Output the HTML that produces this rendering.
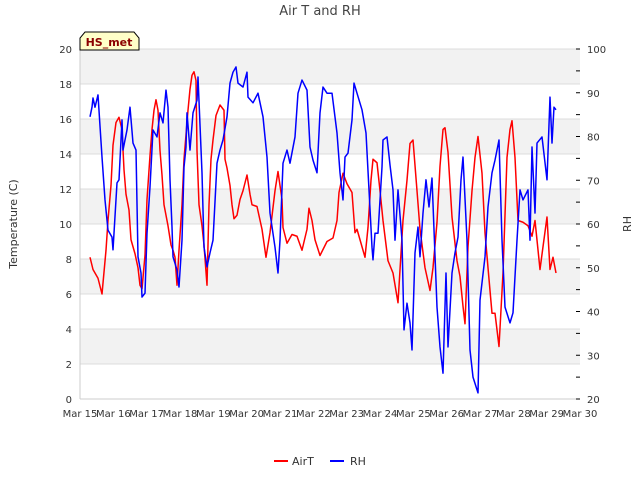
<!DOCTYPE html>
<html><head><meta charset="utf-8"><style>
body{margin:0;background:#fff;font-family:"Liberation Sans","DejaVu Sans",sans-serif}
svg text{font-family:"DejaVu Sans","Liberation Sans",sans-serif}
</style></head><body>
<svg id="chart" width="640" height="480" xmlns="http://www.w3.org/2000/svg">
<text x="320" y="15" text-anchor="middle" font-size="13" fill="#444">Air T and RH</text>
<g id="bands"></g><g id="grid"></g>
<text transform="translate(17,224) rotate(-90)" text-anchor="middle" font-size="11" fill="#333">Temperature (C)</text>
<text transform="translate(631,224) rotate(-90)" text-anchor="middle" font-size="11" fill="#333">RH</text>
<g id="axes"></g><g id="series"></g>
<g>
<path d="M80,50 L80,38 L85,32 L134,32 L139,38 L139,50 Z" fill="#ffffc8" stroke="#000" stroke-width="1"/>
<text x="109" y="46" text-anchor="middle" font-size="11" font-weight="bold" fill="#8b0000">HS_met</text></g>
<g>
<line x1="274" y1="461" x2="288" y2="461" stroke="#f00" stroke-width="2"/>
<text x="292" y="465" font-size="11" fill="#333">AirT</text>
<line x1="330" y1="461" x2="344" y2="461" stroke="#00f" stroke-width="2"/>
<text x="350" y="465" font-size="11" fill="#333">RH</text></g>
</svg>
<script>
const xTickLabels=["Mar 15","Mar 16","Mar 17","Mar 18","Mar 19","Mar 20","Mar 21","Mar 22","Mar 23","Mar 24","Mar 25","Mar 26","Mar 27","Mar 28","Mar 29","Mar 30"];
const yTicks=[0,2,4,6,8,10,12,14,16,18,20];
const y2Ticks=[20,30,40,50,60,70,80,90,100];
const tDays=[0.30,0.39,0.54,0.66,0.78,0.84,0.93,0.99,1.08,1.17,1.26,1.32,1.38,1.47,1.53,1.65,1.74,1.80,1.86,1.95,2.01,2.10,2.16,2.22,2.28,2.34,2.40,2.46,2.52,2.58,2.64,2.73,2.79,2.85,2.91,2.97,3.06,3.12,3.18,3.24,3.30,3.36,3.42,3.48,3.51,3.57,3.66,3.72,3.81,3.87,3.93,3.99,4.08,4.20,4.32,4.35,4.41,4.50,4.56,4.62,4.71,4.80,4.89,5.01,5.10,5.16,5.31,5.46,5.58,5.70,5.85,5.94,6.06,6.09,6.21,6.36,6.51,6.66,6.81,6.87,6.96,7.05,7.20,7.41,7.59,7.71,7.77,7.89,8.01,8.16,8.25,8.31,8.40,8.55,8.64,8.73,8.79,8.91,9.00,9.09,9.24,9.39,9.54,9.69,9.81,9.90,9.99,10.11,10.20,10.35,10.50,10.59,10.71,10.80,10.89,10.95,11.04,11.16,11.31,11.40,11.49,11.55,11.64,11.76,11.85,11.94,12.06,12.15,12.24,12.36,12.45,12.57,12.69,12.81,12.90,12.96,13.05,13.14,13.29,13.44,13.56,13.65,13.80,13.89,14.01,14.10,14.19,14.28];
const airT=[8.1,7.4,6.9,6.0,8.5,10.2,12.2,14.5,15.8,16.1,15.4,13.1,11.7,10.8,9.1,8.3,7.5,6.5,6.3,8.2,11.4,13.9,15.4,16.5,17.1,16.5,14.2,12.8,11.1,10.5,9.9,8.8,8.5,8.1,6.5,8.5,11.1,13.7,15.1,16.5,17.7,18.5,18.7,18.2,14.2,11.1,9.9,8.8,6.5,11.1,13.7,14.8,16.2,16.8,16.5,13.7,13.2,12.2,11.1,10.3,10.5,11.4,11.9,12.8,11.7,11.1,11.0,9.7,8.1,9.5,11.9,13.0,11.4,9.8,8.9,9.4,9.3,8.5,9.7,10.9,10.2,9.1,8.2,9.0,9.2,10.2,11.8,12.9,12.3,11.8,9.5,9.7,9.1,8.1,9.8,12.5,13.7,13.5,11.9,10.2,7.9,7.2,5.5,10.2,12.5,14.6,14.8,11.9,9.7,7.5,6.2,7.5,10.1,13.3,15.4,15.5,14.1,10.4,7.9,7.0,5.3,4.3,8.7,11.9,13.8,15.0,12.9,9.5,7.5,4.9,4.9,3.0,7.2,13.8,15.4,15.9,13.8,10.2,10.1,9.9,9.3,10.2,7.4,8.7,10.4,7.4,8.1,7.2];
const rhDays=[0.30,0.36,0.39,0.45,0.54,0.66,0.75,0.84,0.96,0.99,1.11,1.17,1.26,1.29,1.41,1.50,1.59,1.68,1.74,1.83,1.86,1.95,2.01,2.10,2.19,2.31,2.40,2.49,2.58,2.64,2.70,2.76,2.79,2.91,2.97,3.06,3.12,3.18,3.21,3.30,3.39,3.51,3.54,3.66,3.72,3.81,3.90,3.99,4.11,4.20,4.29,4.41,4.50,4.59,4.68,4.74,4.89,5.01,5.04,5.19,5.34,5.49,5.61,5.70,5.85,5.94,6.00,6.09,6.21,6.30,6.45,6.54,6.66,6.81,6.90,6.99,7.11,7.20,7.29,7.41,7.56,7.71,7.80,7.89,7.95,8.04,8.16,8.22,8.31,8.46,8.58,8.67,8.76,8.79,8.85,8.94,9.06,9.09,9.21,9.30,9.39,9.45,9.54,9.66,9.72,9.81,9.90,9.96,10.05,10.14,10.20,10.29,10.38,10.47,10.56,10.71,10.80,10.89,10.98,11.04,11.16,11.25,11.34,11.43,11.49,11.61,11.70,11.79,11.94,12.00,12.15,12.24,12.36,12.45,12.57,12.66,12.75,12.90,12.99,13.11,13.20,13.29,13.44,13.50,13.56,13.65,13.71,13.86,14.01,14.10,14.16,14.22,14.28];
const rh=[84.5,86.7,88.8,86.7,89.5,75.3,65.5,58.6,57.0,54.1,69.4,70.1,83.8,76.9,81.5,86.7,78.5,76.9,52.5,48.8,43.3,44.2,57.9,68.5,81.5,79.9,85.4,83.1,90.6,86.7,70.1,59.3,52.5,49.5,45.6,56.3,73.0,77.6,85.4,76.9,85.4,88.3,93.6,71.7,54.7,50.2,53.4,56.3,73.9,76.9,79.2,84.5,92.2,94.7,95.9,92.2,91.3,94.7,89.0,87.7,89.9,84.5,75.3,62.5,54.7,48.8,56.3,73.9,76.9,73.9,79.9,89.9,92.9,90.6,77.6,74.6,71.7,85.4,91.3,89.9,89.9,80.8,71.7,65.5,75.3,76.2,83.8,92.2,89.9,86.1,80.8,67.8,54.7,51.8,57.9,57.9,73.0,79.2,79.9,73.5,67.8,56.3,67.8,56.3,35.8,41.9,37.4,31.2,53.4,59.3,52.5,62.5,70.1,63.9,70.5,41.0,31.9,25.9,48.8,31.9,48.8,53.4,57.0,70.1,75.3,56.3,31.2,25.0,21.4,42.6,52.5,63.9,71.7,74.6,79.2,56.3,41.0,37.4,39.7,56.3,67.8,65.5,67.8,56.3,77.6,62.5,78.5,79.9,70.1,89.0,78.5,86.7,86.1];
const X0=80,X1=580,Y0=399,Y1=49;
const xS=d=>X0+d*(X1-X0)/15;
const yS=v=>Y0-v*(Y0-Y1)/20;
const y2S=v=>Y0-(v-20)*(Y0-Y1)/80;
const NS="http://www.w3.org/2000/svg";
function mk(tag,parent,attrs){const e=document.createElementNS(NS,tag);for(const k in attrs)e.setAttribute(k,attrs[k]);document.getElementById(parent).appendChild(e);return e;}
for(let i=0;i<yTicks.length-1;i++){const lo=yTicks[i];if(lo%4!==2)continue;
 const r=mk('rect','bands',{x:X0,y:yS(yTicks[i+1]),width:X1-X0,height:yS(lo)-yS(yTicks[i+1]),fill:'#f2f2f2'});
 
 }
yTicks.forEach(v=>{const l=mk('line','grid',{x1:X0,x2:X1,y1:yS(v),y2:yS(v),stroke:'#dcdcdc','stroke-width':1});
 
 
 const t=mk('text','axes',{x:72,y:yS(v)+4,'text-anchor':'end','font-size':10,fill:'#333'});t.textContent=v;
 
 });
mk('line','axes',{x1:X0,x2:X0,y1:Y1,y2:Y0,stroke:'#ccc'});
mk('line','axes',{x1:X0,x2:X1,y1:Y0,y2:Y0,stroke:'#ccc'});
y2Ticks.forEach(v=>{const t=mk('text','axes',{x:587,y:y2S(v)+4,'font-size':10,fill:'#333'});t.textContent=v;
 
 
 mk('line','axes',{x1:576,x2:580,y1:y2S(v),y2:y2S(v),stroke:'#000'});
 if(v<100)mk('line','axes',{x1:576,x2:580,y1:y2S(v+5),y2:y2S(v+5),stroke:'#000'});});
xTickLabels.forEach((s,i)=>{const t=mk('text','axes',{x:xS(i),y:417,'text-anchor':'middle','font-size':10,fill:'#333'});t.textContent=s;
 
 });
const p1=mk('polyline','series',{points:tDays.map((d,i)=>xS(d)+','+yS(airT[i])).join(' '),fill:'none',stroke:'#f00','stroke-width':1.5,'stroke-linejoin':'round'});


const p2=mk('polyline','series',{points:rhDays.map((d,i)=>xS(d)+','+y2S(rh[i])).join(' '),fill:'none',stroke:'#00f','stroke-width':1.5,'stroke-linejoin':'round'});


</script>
</body></html>
